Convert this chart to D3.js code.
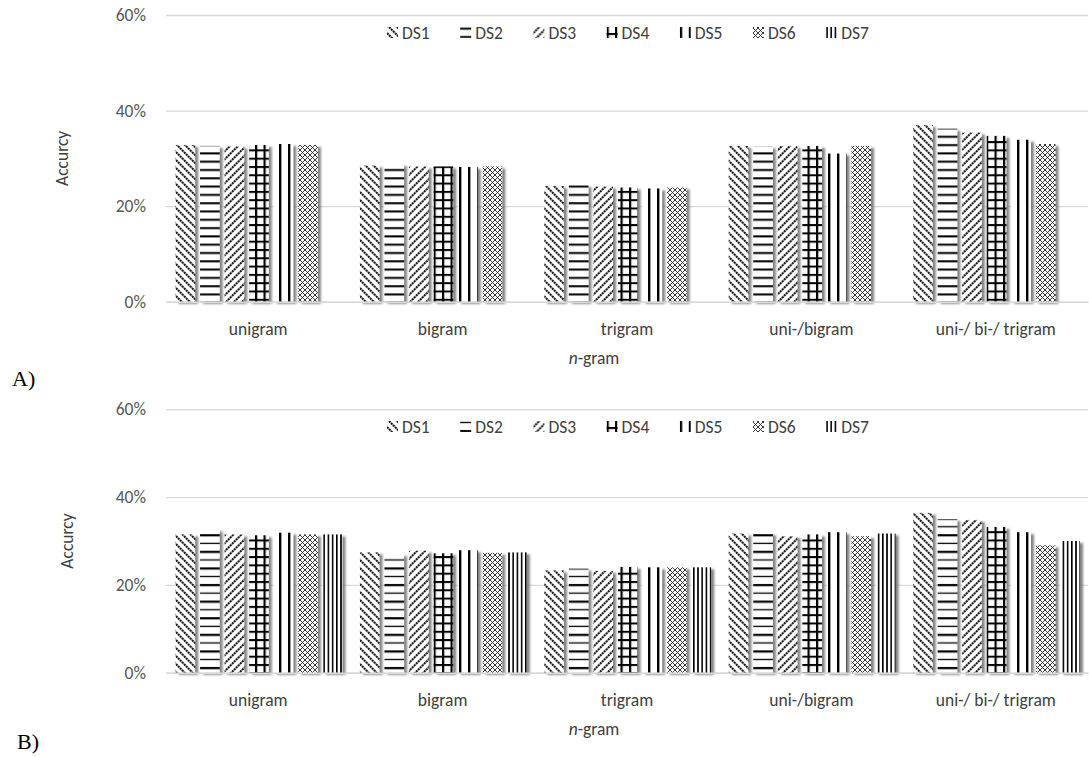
<!DOCTYPE html>
<html>
<head>
<meta charset="utf-8">
<script src="https://cdn.jsdelivr.net/npm/d3@7"></script>
<style>
  html, body { margin: 0; padding: 0; background: #fff; }
  svg { display: block; }
  text { font-family: Carlito, Calibri, Lato, "Open Sans", sans-serif; }
</style>
</head>
<body>
<svg id="fig" width="1089" height="757"></svg>
<script>
// n-gram feature sets on the x axis
const categories = ["unigram", "bigram", "trigram", "uni-/bigram", "uni-/ bi-/ trigram"];
const seriesNames = ["DS1", "DS2", "DS3", "DS4", "DS5", "DS6", "DS7"];
const yTicks = [0, 0.2, 0.4, 0.6];

// Panel A accuracies (DS7 has no result in this panel)
const a_DS1 = [0.328, 0.285, 0.242, 0.326, 0.370];
const a_DS2 = [0.326, 0.288, 0.244, 0.325, 0.362];
const a_DS3 = [0.325, 0.283, 0.241, 0.326, 0.354];
const a_DS4 = [0.328, 0.283, 0.239, 0.326, 0.347];
const a_DS5 = [0.330, 0.282, 0.237, 0.310, 0.339];
const a_DS6 = [0.328, 0.283, 0.239, 0.326, 0.330];
const a_DS7 = [null, null, null, null, null];

// Panel B accuracies
const b_DS1 = [0.315, 0.274, 0.233, 0.317, 0.364];
const b_DS2 = [0.326, 0.270, 0.237, 0.318, 0.350];
const b_DS3 = [0.315, 0.278, 0.232, 0.311, 0.348];
const b_DS4 = [0.313, 0.272, 0.241, 0.315, 0.332];
const b_DS5 = [0.319, 0.279, 0.240, 0.320, 0.320];
const b_DS6 = [0.315, 0.273, 0.240, 0.311, 0.290];
const b_DS7 = [0.315, 0.274, 0.240, 0.317, 0.300];

const panelA = [a_DS1, a_DS2, a_DS3, a_DS4, a_DS5, a_DS6, a_DS7];
const panelB = [b_DS1, b_DS2, b_DS3, b_DS4, b_DS5, b_DS6, b_DS7];

const svg = d3.select("#fig");
const defs = svg.append("defs");

// ---- hatch patterns, one per data set ----
function pat(id, w, h, draw) {
  const p = defs.append("pattern").attr("id", id)
    .attr("patternUnits", "userSpaceOnUse").attr("width", w).attr("height", h);
  p.append("rect").attr("width", w).attr("height", h).attr("fill", "#fff");
  draw(p);
}
// DS1: downward diagonal
pat("p1", 8, 8, p => p.append("path")
  .attr("d", "M-2,-2L10,10M-2,6L2,10M6,-2L10,2")
  .attr("stroke", "#1a1a1a").attr("stroke-width", 2).attr("stroke-dasharray", "2.2,0.6"));
// DS2: horizontal lines
pat("p2", 8, 8.3, p => p.append("rect").attr("x", 0).attr("y", 3).attr("width", 8).attr("height", 2).attr("fill", "#000"));
pat("p2b", 8, 16.6, p => {
  p.append("rect").attr("x", 0).attr("y", 3).attr("width", 8).attr("height", 2.2).attr("fill", "#000");
  p.append("rect").attr("x", 0).attr("y", 11.5).attr("width", 8).attr("height", 1.3).attr("fill", "#000");
});
// DS3: upward diagonal
pat("p3", 8, 8, p => p.append("path")
  .attr("d", "M-2,10L10,-2M-2,2L2,-2M6,10L10,6")
  .attr("stroke", "#1a1a1a").attr("stroke-width", 2).attr("stroke-dasharray", "2.2,0.6"));
// DS4: grid
pat("p4", 8.5, 8.3, p => {
  p.append("rect").attr("x", 0).attr("y", 0).attr("width", 2.2).attr("height", 8.3).attr("fill", "#000");
  p.append("rect").attr("x", 0).attr("y", 0).attr("width", 8.5).attr("height", 2).attr("fill", "#000");
});
// DS5: wide vertical lines
pat("p5", 9, 8, p => p.append("rect").attr("x", 0).attr("y", 0).attr("width", 2.4).attr("height", 8).attr("fill", "#000"));
// DS6: small diamond mesh
pat("p6", 5, 5, p => {
  p.append("path").attr("d", "M0,0L5,5M5,0L0,5")
    .attr("stroke", "#222").attr("stroke-width", 0.9);
});
// DS7: narrow vertical lines
pat("p7", 4.2, 8, p => p.append("rect").attr("x", 0).attr("y", 0).attr("width", 1.6).attr("height", 8).attr("fill", "#000"));

const fillsA = ["p1", "p2", "p3", "p4", "p5", "p6", "p7"];
const fillsB = ["p1", "p2b", "p3", "p4", "p5", "p6", "p7"];

// soft drop shadow behind the bars
const sh = defs.append("filter").attr("id", "shadow")
  .attr("x", "-20%").attr("y", "-5%").attr("width", "160%").attr("height", "115%");
sh.append("feGaussianBlur").attr("in", "SourceAlpha").attr("stdDeviation", 1.3).attr("result", "b");
sh.append("feOffset").attr("in", "b").attr("dx", 3).attr("dy", 1.5).attr("result", "o");
sh.append("feFlood").attr("flood-color", "#5a5a5a").attr("flood-opacity", 0.75);
sh.append("feComposite").attr("in2", "o").attr("operator", "in").attr("result", "s");
const mg = sh.append("feMerge");
mg.append("feMergeNode").attr("in", "s");
mg.append("feMergeNode").attr("in", "SourceGraphic");

function drawPanel(cfg) {
  const g = svg.append("g");
  const x = d3.scaleBand().domain(categories).range([cfg.left, cfg.right]);
  const inner = d3.scaleBand().domain(seriesNames)
    .range([9.5, x.bandwidth() - 8]).paddingInner(0.2).paddingOuter(0);
  const y = d3.scaleLinear().domain([0, 0.6]).range([cfg.bottom, cfg.top]);

  // gridlines + y tick labels
  const yAxis = d3.axisLeft(y).tickValues(yTicks).tickFormat(d3.format(".0%"))
    .tickSize(-(cfg.right - cfg.left)).tickPadding(20);
  const ya = g.append("g").attr("transform", `translate(${cfg.left},0)`).call(yAxis);
  ya.select(".domain").remove();
  ya.selectAll(".tick line").attr("stroke", "#d9d9d9").attr("stroke-width", 1.3);
  ya.selectAll(".tick text").attr("fill", "#595959").attr("font-size", 17.5)
    .attr("x", -20);

  // bars
  const rows = [];
  cfg.data.forEach((vals, si) => vals.forEach((v, ci) => {
    if (v != null) rows.push({ s: seriesNames[si], c: categories[ci], v, fill: cfg.fills[si] });
  }));
  g.append("g").selectAll("rect").data(rows).join("rect")
    .attr("x", d => x(d.c) + inner(d.s))
    .attr("y", d => y(d.v))
    .attr("width", inner.bandwidth())
    .attr("height", d => y(0) - y(d.v))
    .attr("fill", d => `url(#${d.fill})`)
    .attr("filter", "url(#shadow)");

  // category axis
  const xAxis = d3.axisBottom(x).tickSize(0).tickPadding(21);
  const xa = g.append("g").attr("transform", `translate(0,${cfg.bottom})`).call(xAxis);
  xa.select(".domain").attr("stroke", "#d9d9d9").attr("stroke-width", 1.5);
  xa.selectAll(".tick text").attr("fill", "#404040").attr("font-size", 17.5);

  // axis titles
  const xt = g.append("text").attr("x", x("trigram") + x.bandwidth() / 2 - 33)
    .attr("y", cfg.bottom + 62).attr("text-anchor", "middle")
    .attr("fill", "#404040").attr("font-size", 17.5);
  xt.append("tspan").attr("font-style", "italic").text("n");
  xt.append("tspan").text("-gram");

  g.append("text")
    .attr("transform", `translate(${cfg.titleX},${(cfg.top + cfg.bottom) / 2}) rotate(-90)`)
    .attr("text-anchor", "middle").attr("dy", "0.35em")
    .attr("fill", "#404040").attr("font-size", 17.5).text("Accurcy");

  // legend
  const lg = g.append("g").attr("transform", `translate(387,${cfg.legendY})`);
  seriesNames.forEach((s, i) => {
    const it = lg.append("g").attr("transform", `translate(${i * 73.2},0)`);
    it.append("rect").attr("x", 0).attr("y", -6).attr("width", 11).attr("height", 11)
      .attr("fill", `url(#${cfg.fills[i]})`);
    it.append("text").attr("x", 15).attr("y", 0).attr("dy", "0.35em")
      .attr("fill", "#404040").attr("font-size", 17.5).text(s);
  });

  // panel letter
  svg.append("text").attr("x", cfg.letterX).attr("y", cfg.letterY)
    .style("font-family", "'Liberation Serif', 'Times New Roman', serif")
    .attr("font-size", 22).attr("fill", "#000").text(cfg.letter);
}

drawPanel({ data: panelA, fills: fillsA, left: 166, right: 1088, top: 15, bottom: 301.7,
  legendY: 33, titleX: 62, letter: "A)", letterX: 12, letterY: 386 });
drawPanel({ data: panelB, fills: fillsB, left: 166, right: 1088, top: 409.3, bottom: 672.7,
  legendY: 427, titleX: 67, letter: "B)", letterX: 17, letterY: 749 });
</script>
</body>
</html>
